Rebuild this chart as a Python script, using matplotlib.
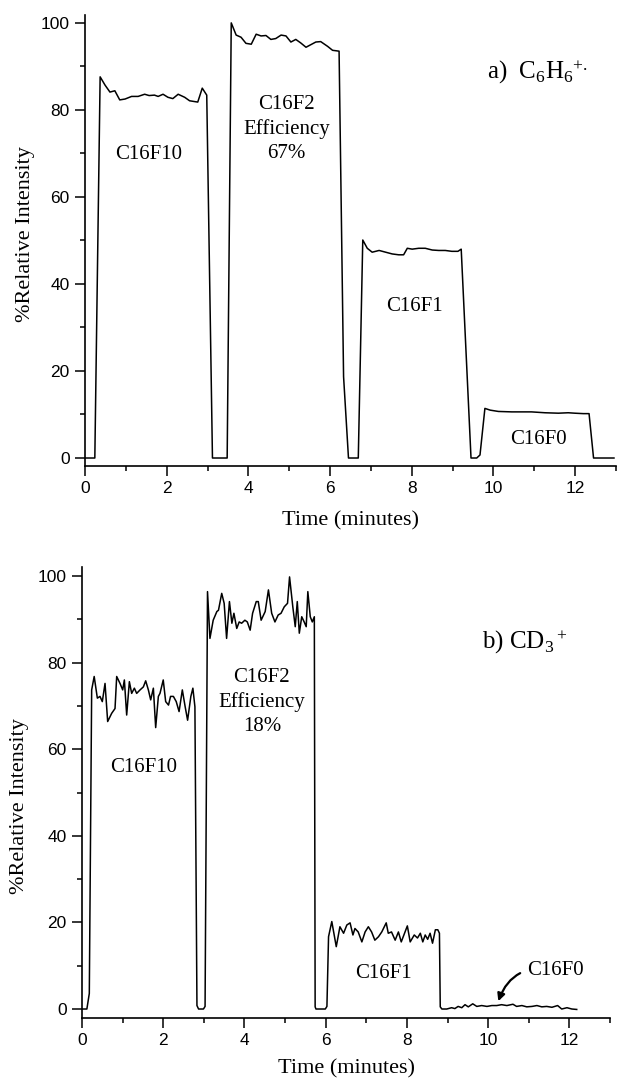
import matplotlib
matplotlib.use("Agg")
import matplotlib.pyplot as plt
from matplotlib.ticker import MultipleLocator

# ---------------- data: panel a) C6H6+. ----------------
time_a = [0.00, 0.24, 0.37, 0.49, 0.61, 0.73, 0.85, 0.98, 1.14, 1.30, 1.46, 1.57,
          1.70, 1.79, 1.91, 2.03, 2.15, 2.28, 2.44, 2.56, 2.76, 2.87, 2.98,
          3.12, 3.48, 3.58, 3.70, 3.82, 3.94, 4.07, 4.19, 4.31, 4.43, 4.55, 4.67,
          4.80, 4.92, 5.04, 5.16, 5.28, 5.41, 5.53, 5.65, 5.77, 5.94, 6.06, 6.22,
          6.33, 6.45, 6.69, 6.80, 6.91, 7.03, 7.20, 7.36, 7.52, 7.68, 7.80, 7.89,
          8.01, 8.17, 8.33, 8.50, 8.66, 8.82, 8.98, 9.13, 9.21,
          9.45, 9.59, 9.67, 9.79, 9.92, 10.12, 10.45, 10.93, 11.26, 11.59, 11.83,
          11.99, 12.20, 12.34, 12.45, 12.95]
intensity_a = [0.0, 0.0, 87.6, 85.7, 84.1, 84.4, 82.3, 82.5, 83.1, 83.1, 83.6, 83.3,
               83.4, 83.1, 83.6, 82.9, 82.6, 83.6, 82.9, 82.1, 81.8, 85.0, 83.4,
               0.0, 0.0, 100.0, 97.2, 96.7, 95.3, 95.1, 97.4, 97.0, 97.1, 96.2, 96.4,
               97.2, 97.0, 95.6, 96.2, 95.4, 94.4, 95.0, 95.6, 95.7, 94.6, 93.7, 93.5,
               18.7, 0.0, 0.0, 50.1, 48.2, 47.3, 47.7, 47.3, 46.9, 46.7, 46.7, 48.2,
               48.0, 48.2, 48.2, 47.8, 47.7, 47.7, 47.5, 47.5, 48.0,
               0.0, 0.0, 0.7, 11.4, 11.0, 10.7, 10.6, 10.6, 10.4, 10.3, 10.4,
               10.3, 10.2, 10.2, 0.0, 0.0]

# ---------------- data: panel b) CD3+ ----------------
time_b = [0.00, 0.12, 0.18, 0.238, 0.30, 0.378, 0.443, 0.50, 0.567, 0.632, 0.731,
          0.813, 0.854, 0.936, 1.002, 1.043, 1.10, 1.166, 1.223, 1.289, 1.346,
          1.429, 1.511, 1.568, 1.634, 1.691, 1.757, 1.814, 1.88, 1.92, 2.00,
          2.06, 2.13, 2.18, 2.25, 2.32, 2.39, 2.47, 2.54, 2.60, 2.68, 2.73, 2.78,
          2.83, 2.87, 2.99, 3.03,
          3.09, 3.15, 3.23, 3.32, 3.36, 3.44, 3.50, 3.56, 3.63, 3.69, 3.74, 3.81,
          3.87, 3.93, 4.01, 4.07, 4.14, 4.20, 4.29, 4.34, 4.41, 4.51, 4.59, 4.67,
          4.75, 4.83, 4.90, 4.98, 5.06, 5.11, 5.19, 5.25, 5.30, 5.35, 5.41, 5.47,
          5.52, 5.56, 5.62, 5.67, 5.72,
          5.74, 5.76, 5.99, 6.03,
          6.07, 6.15, 6.26, 6.35, 6.44, 6.52, 6.60, 6.67, 6.72, 6.80, 6.89, 6.97,
          7.05, 7.13, 7.21, 7.30, 7.38, 7.49, 7.54, 7.62, 7.71, 7.79, 7.86, 7.94,
          8.01, 8.08, 8.18, 8.26, 8.33, 8.39, 8.45, 8.51, 8.57, 8.63, 8.70, 8.76,
          8.80,
          8.82, 8.86, 8.98, 9.10, 9.18, 9.26, 9.35, 9.43, 9.51, 9.62, 9.72, 9.84,
          9.97, 10.09, 10.21, 10.33, 10.46, 10.61, 10.70, 10.83, 10.95, 11.08,
          11.20, 11.32, 11.44, 11.57, 11.71, 11.81, 11.94, 12.06, 12.18]
intensity_b = [0.0, 0.0, 3.6, 73.7, 76.8, 71.8, 72.2, 71.0, 75.2, 66.4, 68.3,
               69.4, 76.8, 75.2, 73.7, 76.0, 67.9, 75.6, 72.9, 74.1, 72.9,
               73.7, 74.4, 75.8, 73.7, 71.4, 74.1, 65.0, 72.2, 72.9, 76.0,
               71.0, 70.2, 72.2, 72.2, 71.0, 68.7, 73.7, 69.8, 66.7, 72.2, 74.1, 69.8,
               0.8, 0.0, 0.0, 0.6,
               96.4, 85.6, 89.8, 91.8, 92.1, 96.0, 93.7, 85.6, 94.1, 89.1, 91.4, 87.9,
               89.4, 89.1, 89.8, 89.4, 87.5, 91.4, 94.1, 94.1, 89.8, 91.8, 96.8, 91.4,
               89.4, 91.0, 91.4, 92.9, 93.7, 99.8, 92.9, 88.3, 94.1, 86.8, 90.6, 89.4,
               88.3, 96.4, 90.6, 89.4, 90.6,
               0.5, 0.0, 0.0, 0.6,
               16.7, 20.2, 14.4, 19.0, 17.5, 19.4, 19.9, 17.1, 18.6, 17.8, 15.5, 17.8,
               19.0, 17.8, 15.9, 16.7, 17.8, 19.9, 17.5, 17.8, 15.9, 17.8, 15.5, 17.5,
               19.2, 15.5, 17.1, 16.4, 17.5, 15.5, 17.1, 16.1, 17.5, 15.2, 18.3, 18.3,
               17.5,
               0.5, 0.0, 0.0, 0.3, 0.1, 0.6, 0.3, 1.0, 0.5, 1.2, 0.6, 0.8,
               0.6, 0.8, 0.8, 1.0, 0.8, 1.1, 0.6, 0.8, 0.5, 0.6,
               0.8, 0.5, 0.6, 0.4, 0.8, 0.0, 0.3, 0.0, -0.1]

x_ticks = [0, 2, 4, 6, 8, 10, 12]
y_ticks = [0, 20, 40, 60, 80, 100]

SERIF = "Liberation Serif"
SANS = "Liberation Sans"
plt.rcParams["mathtext.fontset"] = "custom"
plt.rcParams["mathtext.rm"] = SERIF
plt.rcParams["mathtext.it"] = SERIF + ":italic"
plt.rcParams["mathtext.bf"] = SERIF + ":bold"

fig = plt.figure(figsize=(6.17, 10.83), dpi=100)
ax1 = fig.add_axes([0.1378, 0.5697, 0.8606, 0.4164])
ax2 = fig.add_axes([0.1329, 0.0600, 0.8558, 0.4165])


def style(ax, ylim, xlab_y, ylab_x, ylab_y):
    ax.set_xlim(0, 13)
    ax.set_ylim(*ylim)
    for s in ("top", "right"):
        ax.spines[s].set_visible(False)
    for s in ("left", "bottom"):
        ax.spines[s].set_linewidth(1.2)
    ax.set_xticks(x_ticks)
    ax.set_yticks(y_ticks)
    ax.xaxis.set_minor_locator(MultipleLocator(1))
    ax.yaxis.set_minor_locator(MultipleLocator(10))
    ax.tick_params(which="major", direction="out", length=7, width=1.1,
                   labelsize=12.5, pad=4)
    ax.tick_params(which="minor", direction="out", length=3.5, width=1.1)
    for lab in ax.get_xticklabels() + ax.get_yticklabels():
        lab.set_fontfamily(SANS)
    ax.set_xlabel("Time (minutes)", fontsize=16, fontfamily=SERIF)
    ax.set_ylabel("%Relative Intensity", fontsize=16, fontfamily=SERIF)
    ax.xaxis.set_label_coords(0.5, xlab_y)
    ax.xaxis.label.set_va("center")
    ax.yaxis.set_label_coords(ylab_x, ylab_y)
    ax.yaxis.label.set_va("center")


style(ax1, (-1.84, 101.8), -0.122, -0.113, 0.514)
style(ax2, (-2.08, 102.1), -0.113, -0.119, 0.469)

ax1.plot(time_a, intensity_a, color="black", lw=1.1)
ax2.plot(time_b, intensity_b, color="black", lw=1.1)

tk = dict(fontsize=15, fontfamily=SERIF, ha="center", va="center")
# panel a labels
ax1.text(1.56, 69.7, "C16F10", **tk)
ax1.text(4.93, 75.6, "C16F2\nEfficiency\n67%", linespacing=1.35, **tk)
ax1.text(8.06, 34.8, "C16F1", **tk)
ax1.text(11.09, 4.3, "C16F0", **tk)
ax1.text(9.83, 87.3, r"a)  C$_6$H$_6$$^{+.}$", fontsize=18, fontfamily=SERIF,
         ha="left", va="baseline")

# panel b labels
ax2.text(1.51, 55.8, "C16F10", **tk)
ax2.text(4.43, 70.9, "C16F2\nEfficiency\n18%", linespacing=1.35, **tk)
ax2.text(7.43, 8.2, "C16F1", **tk)
ax2.text(9.85, 83.3, r"b) CD$_3$$^+$", fontsize=18, fontfamily=SERIF,
         ha="left", va="baseline")
ax2.annotate("C16F0", xy=(10.25, 1.8), xytext=(10.95, 8.8),
             fontsize=15, fontfamily=SERIF, ha="left", va="center",
             arrowprops=dict(arrowstyle="-|>", connectionstyle="arc3,rad=0.45",
                             lw=1.6, color="black", shrinkA=3, shrinkB=0,
                             mutation_scale=11))

fig.savefig("out.png", dpi=100)
